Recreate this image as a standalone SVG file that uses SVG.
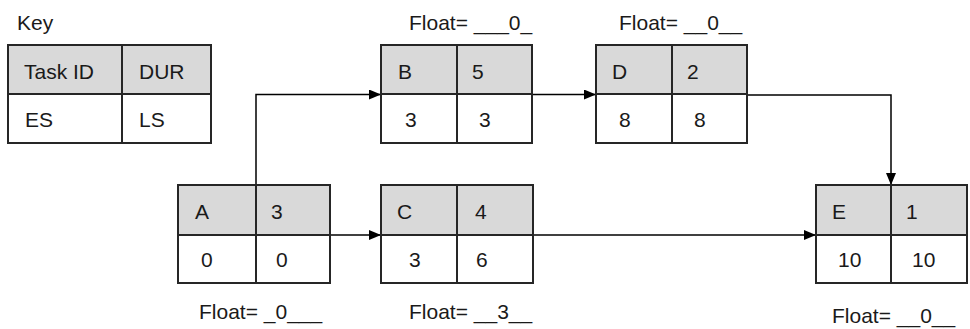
<svg xmlns="http://www.w3.org/2000/svg" width="970" height="329" viewBox="0 0 970 329">
  <style>
    text { font-family: "Liberation Sans", Arial, sans-serif; font-size: 21px; fill: #1a1a1a; }
    .head { fill: #d9d9d9; stroke: none; }
    .box { fill: none; stroke: #262626; stroke-width: 2; }
    .conn { fill: none; stroke: #000; stroke-width: 1.5; }
  </style>
  <defs>
    <marker id="arrow" markerUnits="userSpaceOnUse" markerWidth="12" markerHeight="10" refX="12" refY="5" orient="auto">
      <path d="M0,0 L12,5 L0,10 z" fill="#000"/>
    </marker>
  </defs>

  <rect width="970" height="329" fill="#fff"/>

  <!-- Legend -->
  <g id="key">
    <text x="17" y="30">Key</text>
    <rect class="head" x="8" y="45" width="203" height="49"/>
    <rect class="box" x="8" y="45" width="203" height="98"/>
    <path class="box" d="M8,94 H211 M122,45 V143"/>
    <text x="24" y="79">Task ID</text>
    <text x="139" y="79">DUR</text>
    <text x="25" y="127">ES</text>
    <text x="139" y="127">LS</text>
  </g>

  <!-- Connectors -->
  <g id="connectors">
    <path class="conn" d="M256,185 V94.5 H381" marker-end="url(#arrow)"/>
    <path class="conn" d="M532,94.5 H596" marker-end="url(#arrow)"/>
    <path class="conn" d="M747,95 H891 V185" marker-end="url(#arrow)"/>
    <path class="conn" d="M330,235 H381" marker-end="url(#arrow)"/>
    <path class="conn" d="M533,235 H816" marker-end="url(#arrow)"/>
  </g>

  <!-- Task A -->
  <g id="node-a">
    <rect class="head" x="178" y="185" width="152" height="50"/>
    <rect class="box" x="178" y="185" width="152" height="98"/>
    <path class="box" d="M178,235 H330 M256,185 V283"/>
    <text x="195" y="219">A</text>
    <text x="271" y="219">3</text>
    <text x="201" y="267">0</text>
    <text x="276" y="267">0</text>
    <text x="199" y="319">Float= _0___</text>
  </g>

  <!-- Task B -->
  <g id="node-b">
    <text x="409" y="30">Float= ___0_</text>
    <rect class="head" x="381" y="45" width="151" height="49"/>
    <rect class="box" x="381" y="45" width="151" height="98"/>
    <path class="box" d="M381,94 H532 M457,45 V143"/>
    <text x="398" y="79">B</text>
    <text x="472" y="79">5</text>
    <text x="405" y="127">3</text>
    <text x="479" y="127">3</text>
  </g>

  <!-- Task C -->
  <g id="node-c">
    <rect class="head" x="381" y="185" width="152" height="50"/>
    <rect class="box" x="381" y="185" width="152" height="98"/>
    <path class="box" d="M381,235 H533 M457,185 V283"/>
    <text x="397" y="219">C</text>
    <text x="475" y="219">4</text>
    <text x="409" y="267">3</text>
    <text x="476" y="267">6</text>
    <text x="409" y="319">Float= __3__</text>
  </g>

  <!-- Task D -->
  <g id="node-d">
    <text x="619" y="30">Float= __0__</text>
    <rect class="head" x="596" y="45" width="151" height="49"/>
    <rect class="box" x="596" y="45" width="151" height="98"/>
    <path class="box" d="M596,94 H747 M672,45 V143"/>
    <text x="612" y="79">D</text>
    <text x="687" y="79">2</text>
    <text x="619" y="127">8</text>
    <text x="694" y="127">8</text>
  </g>

  <!-- Task E -->
  <g id="node-e">
    <rect class="head" x="816" y="185" width="151" height="50"/>
    <rect class="box" x="816" y="185" width="151" height="98"/>
    <path class="box" d="M816,235 H967 M891,185 V283"/>
    <text x="832" y="219">E</text>
    <text x="906" y="219">1</text>
    <text x="838" y="267">10</text>
    <text x="912" y="267">10</text>
    <text x="832" y="323">Float= __0__</text>
  </g>
</svg>
